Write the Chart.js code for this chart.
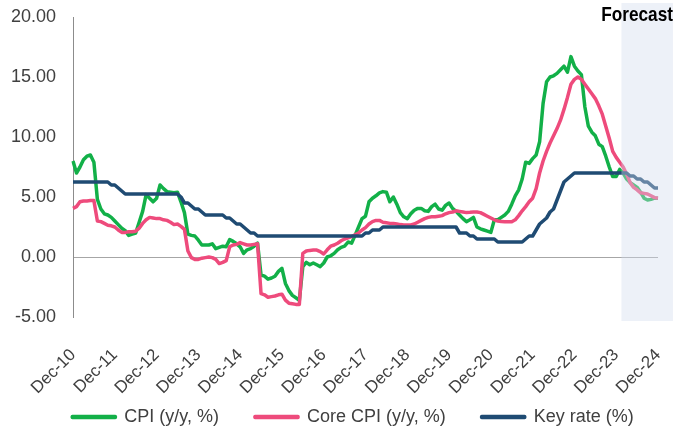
<!DOCTYPE html>
<html>
<head>
<meta charset="utf-8">
<script src="https://cdn.jsdelivr.net/npm/chart.js@4.4.0/dist/chart.umd.min.js"></script>
<style>
  html, body { margin: 0; padding: 0; background: #fff; }
  #wrap { width: 682px; height: 432px; }
</style>
</head>
<body>
<div id="wrap"><canvas id="firstChart"></canvas></div>
<script>
// monthly, Dec-10 .. Dec-24
const monthNames = ['Jan', 'Feb', 'Mar', 'Apr', 'May', 'Jun', 'Jul', 'Aug', 'Sep', 'Oct', 'Nov', 'Dec'];
const years = ['11', '12', '13', '14', '15', '16', '17', '18', '19', '20', '21', '22', '23', '24'];
const months = ['Dec-10'];
years.forEach(y => monthNames.forEach(m => months.push(m + '-' + y)));

const tickLabels = ['Dec-10', 'Dec-11', 'Dec-12', 'Dec-13', 'Dec-14', 'Dec-15', 'Dec-16', 'Dec-17',
    'Dec-18', 'Dec-19', 'Dec-20', 'Dec-21', 'Dec-22', 'Dec-23', 'Dec-24'];
const forecastFrom = 'Feb-24';

const cpi = [
    8.0,
    7.0, 7.5, 8.1, 8.4, 8.5, 7.9, 4.8, 4.0, 3.6, 3.5, 3.3, 3.0,
    2.7, 2.4, 2.2, 1.8, 1.9, 2.0, 2.9, 3.8, 5.2, 4.9, 4.6, 4.9,
    6.0, 5.7, 5.45, 5.4, 5.35, 5.4, 4.6, 3.7, 1.9, 1.8, 1.75, 1.4,
    1.0, 1.0, 1.0, 1.1, 0.7, 0.8, 0.9, 0.85, 1.45, 1.3, 1.1, 0.85,
    0.3, 0.6, 0.7, 0.9, 1.15, -1.5, -1.6, -1.85, -1.75, -1.6, -1.2, -0.95,
    -2.2, -2.8, -3.2, -3.4, -3.6, -0.8, -0.45, -0.65, -0.5, -0.65, -0.8, -0.5,
    0.0, 0.1, 0.3, 0.6, 0.8, 0.9, 1.25, 1.15, 1.8, 2.5, 3.2, 3.4,
    4.6, 4.9, 5.1, 5.35, 5.45, 5.4, 4.6, 5.0, 4.4, 3.7, 3.35, 3.2,
    3.6, 3.9, 4.05, 4.05, 3.85, 3.8, 4.2, 4.4, 4.0, 3.9, 4.3, 4.5,
    4.05, 3.8, 3.5, 3.2, 2.95, 3.1, 3.3, 2.5, 2.35, 2.25, 2.15, 2.05,
    3.1, 3.1, 3.3, 3.5, 3.8, 4.4, 5.1, 5.6, 6.5, 7.9, 7.8, 8.2,
    8.5, 9.6, 12.8, 14.6, 15.0, 15.1, 15.3, 15.6, 15.9, 15.4, 16.7, 15.9,
    15.5, 15.2, 12.5, 10.9, 10.4, 10.1, 9.4, 9.2, 8.4, 7.5, 6.7, 6.7,
    7.3, 7.0, 6.5, 6.2, 6.0, 5.8, 5.4, 4.9, 4.75, 4.8, 4.9, 4.9
];

const coreCpi = [
    4.05,
    4.2, 4.6, 4.67, 4.67, 4.7, 4.7, 3.0, 2.95, 2.8, 2.65, 2.6, 2.5,
    2.25, 2.05, 2.05, 2.1, 2.1, 2.15, 2.4, 2.8, 3.1, 3.3, 3.25, 3.2,
    3.2, 3.1, 3.05, 2.9, 2.7, 2.75, 2.55, 2.3, 0.5, -0.05, -0.2, -0.2,
    -0.1, -0.05, 0.0, -0.05, -0.2, -0.55, -0.45, -0.3, 0.85, 1.0, 1.05, 1.2,
    1.1, 1.0, 1.0, 1.05, 1.1, -3.05, -3.15, -3.35, -3.3, -3.25, -3.15, -3.1,
    -3.6, -3.85, -3.9, -3.95, -3.95, 0.3, 0.5, 0.55, 0.58, 0.58, 0.45, 0.25,
    0.6, 0.9, 1.0, 1.15, 1.35, 1.5, 1.6, 1.7, 1.85, 2.0, 2.25, 2.45,
    2.75, 2.95, 3.05, 3.05, 2.9, 2.85, 2.8, 2.8, 2.75, 2.7, 2.67, 2.67,
    2.67, 2.75, 2.9, 3.05, 3.2, 3.3, 3.35, 3.35, 3.4, 3.45, 3.6, 3.7,
    3.75, 3.85, 3.8, 3.75, 3.7, 3.72, 3.75, 3.75, 3.7, 3.55, 3.4, 3.25,
    3.1, 3.0, 2.95, 2.94, 2.94, 2.94, 3.1, 3.45, 3.85, 4.2, 4.6, 4.9,
    5.7, 7.0, 8.0, 8.8, 9.5, 10.1, 10.7, 11.4, 12.3, 13.3, 14.4, 14.8,
    15.0, 14.8, 14.4, 14.0, 13.6, 13.2, 12.6, 11.9, 10.9, 9.9, 8.8, 8.3,
    7.9, 7.5, 6.9, 6.2, 5.8, 5.6, 5.35, 5.3, 5.25, 5.1, 4.95, 4.9
];

const keyRate = [
    6.25,
    6.25, 6.25, 6.25, 6.25, 6.25, 6.25, 6.25, 6.25, 6.25, 6.25, 6.0, 6.0,
    5.75, 5.5, 5.25, 5.25, 5.25, 5.25, 5.25, 5.25, 5.25, 5.25, 5.25, 5.25,
    5.25, 5.25, 5.25, 5.25, 5.25, 5.25, 5.0, 4.5, 4.5, 4.25, 4.0, 4.0,
    3.75, 3.5, 3.5, 3.5, 3.5, 3.5, 3.5, 3.25, 3.25, 3.0, 2.75, 2.75,
    2.5, 2.25, 2.0, 2.0, 1.75, 1.75, 1.75, 1.75, 1.75, 1.75, 1.75, 1.75,
    1.75, 1.75, 1.75, 1.75, 1.75, 1.75, 1.75, 1.75, 1.75, 1.75, 1.75, 1.75,
    1.75, 1.75, 1.75, 1.75, 1.75, 1.75, 1.75, 1.75, 1.75, 1.75, 1.75, 2.0,
    2.0, 2.25, 2.25, 2.25, 2.5, 2.5, 2.5, 2.5, 2.5, 2.5, 2.5, 2.5,
    2.5, 2.5, 2.5, 2.5, 2.5, 2.5, 2.5, 2.5, 2.5, 2.5, 2.5, 2.5,
    2.5, 2.5, 2.0, 2.0, 2.0, 1.75, 1.75, 1.5, 1.5, 1.5, 1.5, 1.5,
    1.5, 1.25, 1.25, 1.25, 1.25, 1.25, 1.25, 1.25, 1.25, 1.5, 1.75, 1.75,
    2.25, 2.75, 3.0, 3.25, 3.75, 4.0, 4.75, 5.5, 6.25, 6.5, 6.75, 7.0,
    7.0, 7.0, 7.0, 7.0, 7.0, 7.0, 7.0, 7.0, 7.0, 7.0, 7.0, 7.0,
    7.0, 7.0, 7.0, 6.75, 6.75, 6.5, 6.5, 6.25, 6.25, 6.0, 5.75, 5.75
];

const textColor = '#404040';
const mainFont = 'Liberation Sans, Arial, sans-serif';

// shaded forecast area, drawn over the lines like the original
const forecastShade = {
    id: 'forecastShade',
    afterDatasetsDraw(chart) {
        const ctx = chart.ctx;
        const x = chart.scales.x;
        const y = chart.scales.y;
        const step = x.getPixelForValue(1) - x.getPixelForValue(0);
        const left = x.getPixelForValue(months.indexOf(forecastFrom)) - step * 0.5;
        const right = x.getPixelForValue(months.length - 1) + step * 4.3;
        const top = y.getPixelForValue(y.max) - 14;
        const bottom = y.getPixelForValue(y.min) + 4;
        ctx.save();
        ctx.fillStyle = 'rgba(210, 220, 237, 0.4)';
        ctx.fillRect(left, top, right - left, bottom - top);
        // narrow bold title
        ctx.translate(right, top + 18);
        ctx.scale(0.82, 1);
        ctx.font = 'bold 21px "Liberation Sans", Arial, sans-serif';
        ctx.textAlign = 'right';
        ctx.textBaseline = 'alphabetic';
        ctx.fillStyle = '#000';
        ctx.fillText('Forecast', 0, 0);
        ctx.restore();
    }
};

// legend sits a bit right of centre in the original; also let the
// rotated x labels draw below the (short) x axis box
const layoutTweak = {
    id: 'layoutTweak',
    afterLayout(chart) {
        const l = chart.legend;
        l.left += 24; l.right += 24;
        l.top += 4; l.bottom += 4;
        chart.scales.x.bottom += 40;
    }
};

let firstChart = document.getElementById('firstChart').getContext('2d');

let lineChart = new Chart(firstChart, {
    type: 'line',
    data: {
        labels: months,
        datasets: [{
            label: 'CPI (y/y, %)',
            data: cpi,
            borderColor: '#12B048',
            backgroundColor: '#12B048',
            order: 3
        }, {
            label: 'Core CPI (y/y, %)',
            data: coreCpi,
            borderColor: '#EE4B7C',
            backgroundColor: '#EE4B7C',
            order: 2
        }, {
            label: 'Key rate (%)',
            data: keyRate,
            borderColor: '#1F4B73',
            backgroundColor: '#1F4B73',
            order: 1
        }]
    },
    options: {
        responsive: true,
        maintainAspectRatio: false,
        animation: false,
        layout: { padding: { top: 17, right: 24, left: 0, bottom: 0 } },
        elements: {
            point: { radius: 0 },
            line: { borderWidth: 3.5, tension: 0, borderJoinStyle: 'round' }
        },
        scales: {
            x: {
                grid: { display: false },
                border: { display: false },
                ticks: {
                    autoSkip: false,
                    minRotation: 45,
                    maxRotation: 45,
                    padding: 20,
                    color: textColor,
                    font: { family: mainFont, size: 17 },
                    callback: function (value) {
                        const lab = this.getLabelForValue(value);
                        return tickLabels.includes(lab) ? lab : '';
                    }
                },
                afterFit(scale) {
                    scale.height = 51;
                    scale.paddingLeft = 0;
                    scale.paddingRight = 0;
                }
            },
            y: {
                min: -5,
                max: 20,
                ticks: {
                    stepSize: 5,
                    padding: 17,
                    color: textColor,
                    font: { family: mainFont, size: 18 },
                    callback: value => value.toFixed(2)
                },
                grid: {
                    drawTicks: false,
                    color: ctx => ctx.tick && ctx.tick.value === 0 ? '#A6A6A6' : 'rgba(0,0,0,0)'
                },
                border: { display: true, color: '#8C8C8C', width: 1 },
                afterFit(scale) {
                    scale.width = 73;
                    scale.paddingTop = 0;
                    scale.paddingBottom = 0;
                }
            }
        },
        plugins: {
            legend: {
                display: true,
                position: 'bottom',
                labels: {
                    boxWidth: 43,
                    boxHeight: 1,
                    padding: 36,
                    color: textColor,
                    font: { family: mainFont, size: 18 },
                    sort: (a, b) => a.datasetIndex - b.datasetIndex
                }
            },
            tooltip: { enabled: false }
        }
    },
    plugins: [forecastShade, layoutTweak]
});
</script>
</body>
</html>
